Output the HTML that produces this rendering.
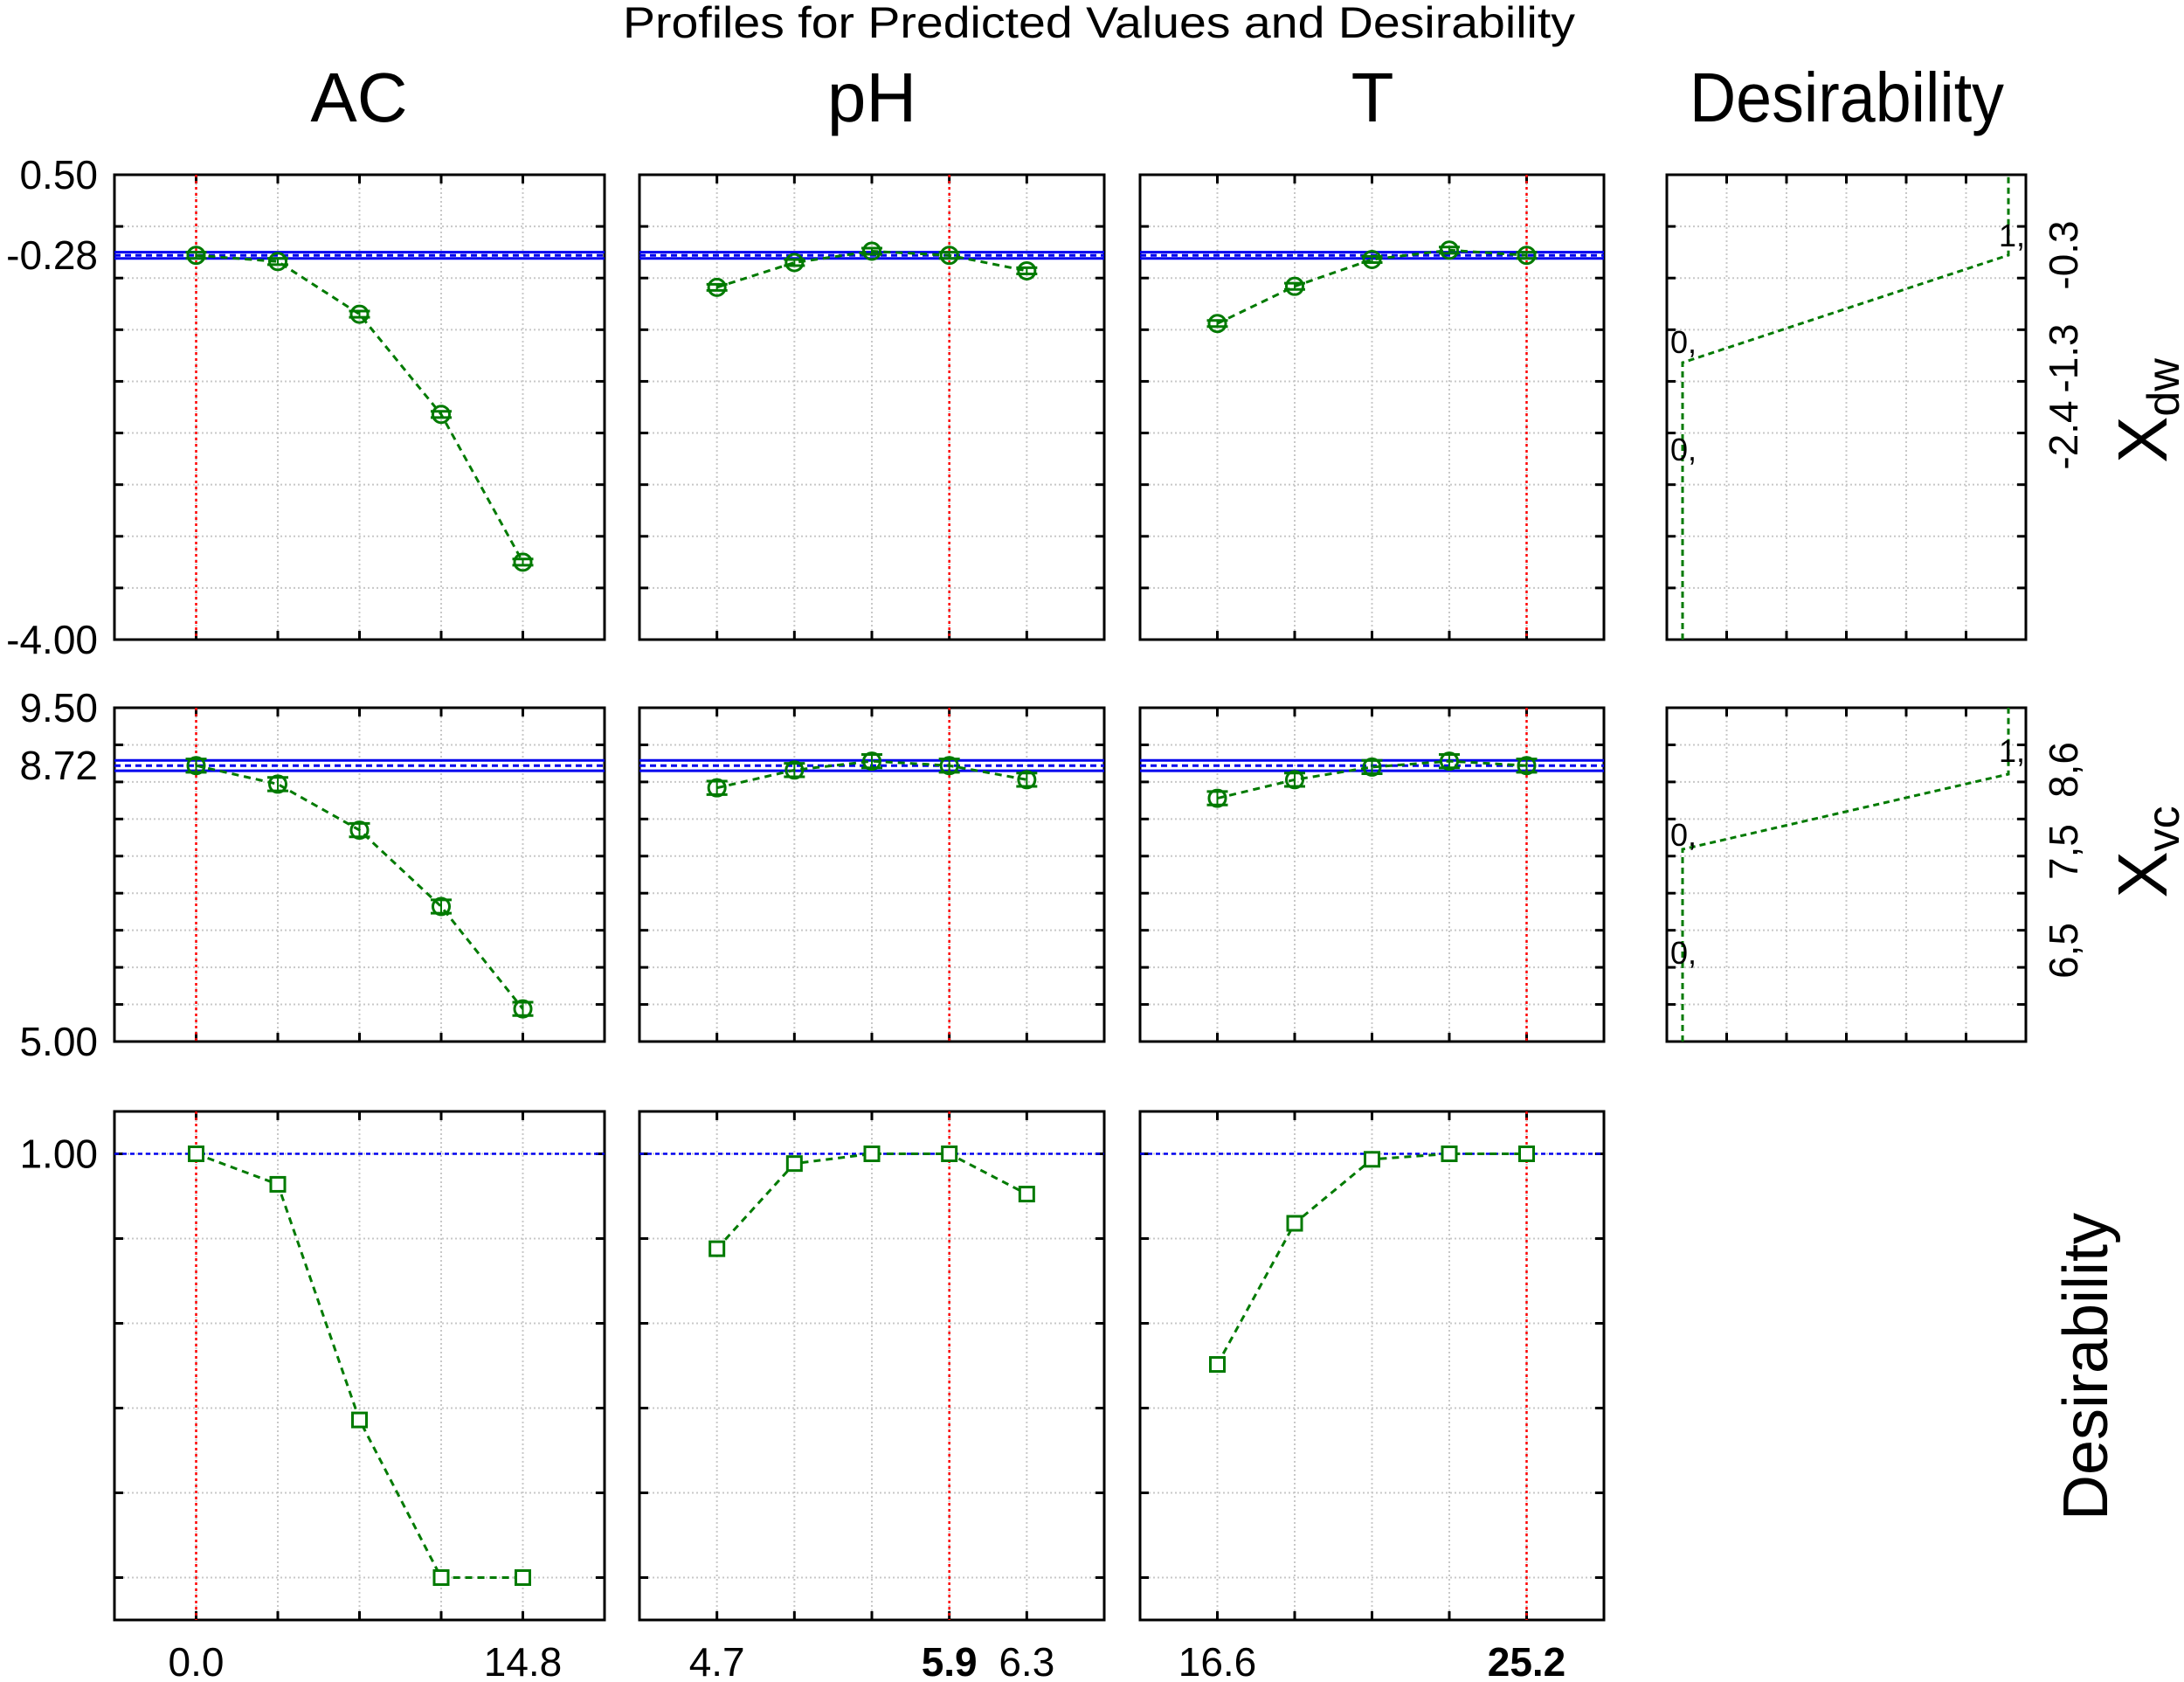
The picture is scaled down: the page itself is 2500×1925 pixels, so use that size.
<!DOCTYPE html>
<html><head><meta charset="utf-8"><style>
html,body{margin:0;padding:0;background:#fff;}
svg{display:block;font-family:"Liberation Sans",sans-serif;}
</style></head><body>
<svg id="chart" width="2500" height="1925" viewBox="0 0 2500 1925" xmlns="http://www.w3.org/2000/svg">
<text x="713" y="43" font-size="50" textLength="1090" lengthAdjust="spacingAndGlyphs">Profiles for Predicted Values and Desirability</text>
<text x="411" y="139" font-size="80" text-anchor="middle">AC</text>
<text x="998" y="139" font-size="80" text-anchor="middle">pH</text>
<text x="1571" y="139" font-size="80" text-anchor="middle">T</text>
<text x="2114" y="139" font-size="80" text-anchor="middle" textLength="360" lengthAdjust="spacingAndGlyphs">Desirability</text>
<g id="plots"></g>
</svg>
<script>
// ---- data ----
const factors = ['AC','pH','T'];
const acLevels = [0.0, 3.7, 7.4, 11.1, 14.8];
const phLevels = [4.7, 5.1, 5.5, 5.9, 6.3];
const tLevels = [16.6, 18.75, 20.9, 23.05, 25.2];
const currentSettings = [0.0, 5.9, 25.2];
const xdwAC = [-0.28, -0.34, -0.85, -1.82, -3.25];
const xdwPH = [-0.59, -0.35, -0.24, -0.28, -0.43];
const xdwT = [-0.94, -0.58, -0.32, -0.23, -0.28];
const xvcAC = [8.72, 8.47, 7.85, 6.82, 5.44];
const xvcPH = [8.42, 8.66, 8.78, 8.72, 8.53];
const xvcT = [8.28, 8.53, 8.70, 8.78, 8.72];
const desAC = [1.0, 0.928, 0.372, 0.0, 0.0];
const desPH = [0.776, 0.977, 1.0, 1.0, 0.905];
const desT = [0.503, 0.836, 0.987, 1.0, 1.0];
const xdwCurrent = -0.28;
const xvcCurrent = 8.72;
const xdwBreaks = ['-2.4', '-1.3', '-0.3'];
const xvcBreaks = ['6,5', '7,5', '8,6'];

// ---- layout ----
const NS='http://www.w3.org/2000/svg';
const g=document.getElementById('plots');
const colX=[[131,692],[732,1264],[1305,1836],[1908,2319]];
const rowY=[[200,732],[810,1192],[1272,1854]];
const xDomains=[[-3.7,18.5],[4.3,6.7],[14.45,27.35]];
const yDomains=[[-4,0.5],[5,9.5],[-0.1,1.1]];
const levels=[acLevels,phLevels,tLevels];
const rowData=[[xdwAC,xdwPH,xdwT],[xvcAC,xvcPH,xvcT],[desAC,desPH,desT]];
const rowNames=['xdw','xvc','desirability'];
const GREEN='#007a00';

function el(tag,attrs,parent){const e=document.createElementNS(NS,tag);for(const k in attrs)e.setAttribute(k,attrs[k]);(parent||g).appendChild(e);return e;}
function sx(c,v){const d=xDomains[c],p=colX[c];return p[0]+(v-d[0])/(d[1]-d[0])*(p[1]-p[0]);}
function sy(r,v){const d=yDomains[r],p=rowY[r];return p[1]-(v-d[0])/(d[1]-d[0])*(p[1]-p[0]);}
function txt(s,attrs){const t=el('text',attrs);t.textContent=s;return t;}

function gridAndFrame(c,r,xs,ys,name){
  const [x0,x1]=colX[c],[y0,y1]=rowY[r];
  const grp=el('g',{});
  
  
  xs.forEach(x=>{el('line',{x1:x,x2:x,y1:y0,y2:y1,stroke:'#c8c8c8','stroke-width':2,'stroke-dasharray':'2,3'},grp);
    el('line',{x1:x,x2:x,y1:y0,y2:y0+10,stroke:'#000','stroke-width':3},grp);
    el('line',{x1:x,x2:x,y1:y1,y2:y1-10,stroke:'#000','stroke-width':3},grp);});
  ys.forEach(y=>{el('line',{x1:x0,x2:x1,y1:y,y2:y,stroke:'#c8c8c8','stroke-width':2,'stroke-dasharray':'2,3'},grp);
    el('line',{x1:x0,x2:x0+10,y1:y,y2:y,stroke:'#000','stroke-width':3},grp);
    el('line',{x1:x1,x2:x1-10,y1:y,y2:y,stroke:'#000','stroke-width':3},grp);});
  el('rect',{x:x0,y:y0,width:x1-x0,height:y1-y0,fill:'none',stroke:'#000','stroke-width':3},grp);
}

const yGridVals=[[0,-0.5,-1,-1.5,-2,-2.5,-3,-3.5],[9,8.5,8,7.5,7,6.5,6,5.5],[1,0.8,0.6,0.4,0.2,0]];

for(let r=0;r<3;r++){
  for(let c=0;c<3;c++){
    const xs=levels[c].map(v=>sx(c,v));
    const ys=yGridVals[r].map(v=>sy(r,v));
    gridAndFrame(c,r,xs,ys,'panel-'+rowNames[r]+'-'+factors[c].toLowerCase());
    const [x0,x1]=colX[c];
    if(r<2){
      const cur=r===0?xdwCurrent:xvcCurrent;
      const band=r===0?0.03:0.07;
      const l1=el('line',{x1:x0,x2:x1,y1:sy(r,cur+band),y2:sy(r,cur+band),stroke:'#0000ee','stroke-width':3});
      
      
      const l2=el('line',{x1:x0,x2:x1,y1:sy(r,cur-band),y2:sy(r,cur-band),stroke:'#0000ee','stroke-width':3});
      
      
      const l3=el('line',{x1:x0,x2:x1,y1:sy(r,cur),y2:sy(r,cur),stroke:'#0000ee','stroke-width':3,'stroke-dasharray':'7,5'});
      
      
    } else {
      const l3=el('line',{x1:x0,x2:x1,y1:sy(r,1),y2:sy(r,1),stroke:'#0000ee','stroke-width':2.5,'stroke-dasharray':'5,4'});
      
      
    }
    const rx=sx(c,currentSettings[c]);
    const red=el('line',{x1:rx,x2:rx,y1:rowY[r][0],y2:rowY[r][1],stroke:'#ff0000','stroke-width':2.5,'stroke-dasharray':'3,4'});
    
    
    const vals=rowData[r][c];
    const pts=vals.map((v,i)=>sx(c,levels[c][i])+','+sy(r,v)).join(' ');
    const pl=el('polyline',{points:pts,fill:'none',stroke:GREEN,'stroke-width':3,'stroke-dasharray':'8,6'});
    
    
    vals.forEach((v,i)=>{
      const px=sx(c,levels[c][i]),py=sy(r,v);
      if(r<2){
        const err=r===0?0.03:0.09;
        const mk=el('g',{});
        
        
        el('circle',{cx:px,cy:py,r:9.5,fill:'none',stroke:GREEN,'stroke-width':3},mk);
        el('line',{x1:px-12,x2:px+12,y1:sy(r,v+err),y2:sy(r,v+err),stroke:GREEN,'stroke-width':3},mk);
        el('line',{x1:px-12,x2:px+12,y1:sy(r,v-err),y2:sy(r,v-err),stroke:GREEN,'stroke-width':3},mk);
        el('line',{x1:px,x2:px,y1:sy(r,v+err),y2:sy(r,v-err),stroke:GREEN,'stroke-width':2},mk);
      } else {
        const sq=el('rect',{x:px-8,y:py-8,width:16,height:16,fill:'#fff',stroke:GREEN,'stroke-width':3});
        
        
      }
    });
  }
}

const yl=[['0.50',0,0.5],['-0.28',0,xdwCurrent],['-4.00',0,-4],['9.50',1,9.5],['8.72',1,xvcCurrent],['5.00',1,5],['1.00',2,1]];
yl.forEach(([s,r,v])=>{const t=txt(s,{x:112,y:sy(r,v)+16,'font-size':46,'text-anchor':'end'});
  
  });

const xl=[[0,0.0,'0.0',false],[0,14.8,'14.8',false],[1,4.7,'4.7',false],[1,5.9,'5.9',true],[1,6.3,'6.3',false],[2,16.6,'16.6',false],[2,25.2,'25.2',true]];
xl.forEach(([c,v,s,b])=>{const t=txt(s,{x:sx(c,v),y:1918,'font-size':46,'text-anchor':'middle','font-weight':b?'bold':'normal'});
  
  });

function desPanel(r,yTop,yKnee,name){
  const [x0,x1]=colX[3],[y0,y1]=rowY[r];
  const xs=[1,2,3,4,5].map(i=>x0+i*(x1-x0)/6);
  const ys=yGridVals[r].map(v=>sy(r,v));
  gridAndFrame(3,r,xs,ys,name);
  const xa=1926,xb=2299;
  const path=el('polyline',{points:`${xa},${y1} ${xa},${yKnee} ${xb},${yTop} ${xb},${y0}`,fill:'none',stroke:GREEN,'stroke-width':3,'stroke-dasharray':'7,5'});
  
  
}
desPanel(0,292,415,'desirability-panel-xdw');
desPanel(1,886,972,'desirability-panel-xvc');
const small=[['0,',1912,404],['0,',1912,527],['1,',2288,282],['0,',1912,968],['0,',1912,1103],['1,',2288,872]];
small.forEach(([s,x,y])=>{const t=txt(s,{x:x,y:y,'font-size':36});
  
  });

const rlY=[498,410,292,1088,975,881];
const rlText=xdwBreaks.concat(xvcBreaks);
rlText.forEach((s,i)=>{const t=txt(s,{x:0,y:0,'font-size':46,'text-anchor':'middle',transform:`translate(2378,${rlY[i]}) rotate(-90)`});
  
  });

function rowLabel(main,sub,y,name){
  const t=el('text',{x:0,y:0,'font-size':80,'text-anchor':'middle',transform:`translate(2480,${y}) rotate(-90)`});
  
  
  t.appendChild(document.createTextNode(main));
  if(sub){const ts=document.createElementNS(NS,'tspan');ts.setAttribute('font-size','52');ts.setAttribute('dy','14');ts.textContent=sub;t.appendChild(ts);}
}
rowLabel('X','dw',470,'row-label-xdw');
rowLabel('X','vc',975,'row-label-xvc');
const dl=el('text',{x:0,y:0,'font-size':72,'text-anchor':'middle',transform:'translate(2412,1564) rotate(-90)'});


dl.textContent='Desirability';
</script>
</body></html>
